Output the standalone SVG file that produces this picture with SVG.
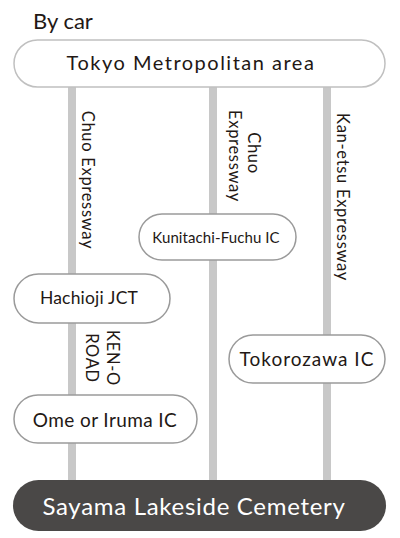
<svg xmlns="http://www.w3.org/2000/svg" width="400" height="538" viewBox="0 0 400 538">
<style>
text{font-family:Lato,"Noto Sans","Liberation Sans",sans-serif;fill:#231815}
.node{fill:#fff;stroke:#9a9a9a;stroke-width:1.5}
.road{stroke:#c8c8c8;stroke-width:8;fill:none}
.lbl{font-size:16.5px;letter-spacing:0.7px}
.nl{text-anchor:middle}
</style>
<rect width="400" height="538" fill="#fff"/>
<text x="33" y="29" font-size="22">By car</text>
<g id="connectors">
<line class="road" x1="72" y1="86" x2="72" y2="482"/>
<line class="road" x1="213" y1="86" x2="213" y2="482"/>
<line class="road" x1="327" y1="86" x2="327" y2="482"/>
</g>
<g id="labels">
<text class="lbl nl" transform="translate(82,180) rotate(90)">Chuo Expressway</text>
<text class="lbl nl" transform="translate(248,153) rotate(90)">Chuo</text>
<text class="lbl nl" transform="translate(229,156) rotate(90)">Expressway</text>
<text class="lbl nl" transform="translate(337,197) rotate(90)">Kan-etsu Expressway</text>
<text class="lbl nl" transform="translate(107,358) rotate(90)">KEN-O</text>
<text class="lbl nl" transform="translate(86,358) rotate(90)">ROAD</text>
</g>
<g id="tokyo">
<rect x="14" y="40" width="371" height="47" rx="23.5" fill="#fff" stroke="#c0c0c0" stroke-width="1.5"/>
<text class="nl" x="191" y="70" font-size="20" letter-spacing="1.5">Tokyo Metropolitan area</text>
</g>
<g id="kunitachi">
<rect class="node" x="139" y="214" width="157" height="46" rx="23"/>
<text class="nl" x="216" y="243" font-size="15" letter-spacing="0.1">Kunitachi-Fuchu IC</text>
</g>
<g id="hachioji">
<rect class="node" x="14" y="274" width="156" height="49" rx="24.5"/>
<text class="nl" x="89" y="304" font-size="17.5" letter-spacing="0.2">Hachioji JCT</text>
</g>
<g id="tokorozawa">
<rect class="node" x="229" y="335" width="156" height="48" rx="24"/>
<text class="nl" x="307" y="366" font-size="19" letter-spacing="1">Tokorozawa IC</text>
</g>
<g id="ome">
<rect class="node" x="14" y="395" width="183" height="48" rx="24"/>
<text class="nl" x="105" y="427" font-size="19" letter-spacing="0.4">Ome or Iruma IC</text>
</g>
<g id="sayama">
<rect x="13" y="480" width="373" height="51" rx="25.5" fill="#4a4847"/>
<text class="nl" x="194" y="515" font-size="24" style="fill:#fff" letter-spacing="0.7">Sayama Lakeside Cemetery</text>
</g>
</svg>
